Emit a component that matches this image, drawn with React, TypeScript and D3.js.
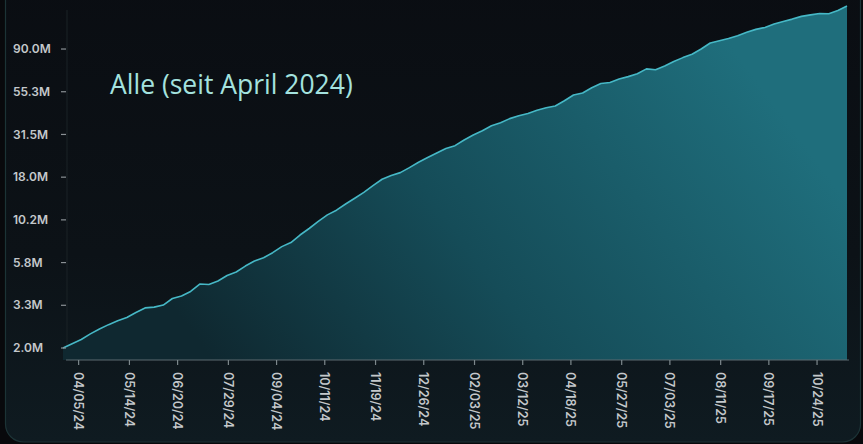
import React from "react";
import * as d3 from "d3";

const W = 863;
const H = 444;

// weekly samples (millions), starting 2024-03-24
const START = "2024-03-24";
const STEP_DAYS = 7;
const values = [
  2.0, 2.1, 2.21, 2.36, 2.5, 2.63, 2.75, 2.86, 3.03, 3.2,
  3.23, 3.31, 3.61, 3.73, 3.96, 4.37, 4.34, 4.55, 4.89, 5.12,
  5.54, 5.92, 6.18, 6.61, 7.16, 7.56, 8.35, 9.1, 10.0, 10.9,
  11.6, 12.6, 13.6, 14.7, 16.1, 17.5, 18.4, 19.1, 20.4, 21.9,
  23.3, 24.7, 26.2, 27.2, 29.3, 31.3, 33.1, 35.3, 36.8, 38.8,
  40.3, 41.5, 43.3, 44.8, 45.8, 49.1, 53.0, 54.4, 57.9, 60.8,
  61.4, 63.9, 65.7, 67.9, 71.8, 71.1, 74.2, 78.1, 81.6, 84.8,
  90.0, 96.4, 98.9, 101.5, 104.8, 108.9, 112.6, 115.1, 119.6, 123.3,
  126.6, 130.6, 132.9, 135.0, 134.6, 139.6, 146.9,
];

const yTicks = [2.0, 3.3, 5.8, 10.2, 18.0, 31.5, 55.3, 90.0];

const xTickLabels = [
  "04/05/24", "05/14/24", "06/20/24", "07/29/24", "09/04/24", "10/11/24",
  "11/19/24", "12/26/24", "02/03/25", "03/12/25", "04/18/25", "05/27/25",
  "07/03/25", "08/11/25", "09/17/25", "10/24/25",
];

const TITLE = "Alle (seit April 2024)";

const LEFT = 63;
const RIGHT = 847;
const BASE = 360;
const Y_BOTTOM = 348;
const Y_STEP = 42.71;

export default function App() {
  const start = d3.timeParse("%Y-%m-%d")(START) as Date;
  const dates = values.map((_, i) => d3.timeDay.offset(start, i * STEP_DAYS));
  const data = values.map((v, i) => ({ date: dates[i], value: v }));

  const x = d3
    .scaleTime()
    .domain([dates[0], dates[dates.length - 1]])
    .range([LEFT, RIGHT]);

  // piecewise log scale so the odd tick values sit evenly spaced
  const y = d3
    .scaleLog()
    .domain(yTicks)
    .range(yTicks.map((_, i) => Y_BOTTOM - i * Y_STEP));

  const parseTick = d3.timeParse("%m/%d/%y");
  const xTicks = xTickLabels.map((s) => ({ label: s, date: parseTick(s) as Date }));

  const area = d3
    .area<{ date: Date; value: number }>()
    .x((d) => x(d.date))
    .y0(BASE)
    .y1((d) => y(d.value));

  const line = d3
    .line<{ date: Date; value: number }>()
    .x((d) => x(d.date))
    .y((d) => y(d.value));

  const axisFont = "Inter, 'DejaVu Sans', sans-serif";

  return (
    <div style={{ position: "absolute", left: 0, top: 0 }}>
      <svg width={W} height={H} style={{ display: "block" }}>
        <defs>
          <linearGradient id="cardBg" x1="0" y1="0" x2="0" y2="1">
            <stop offset="0" stopColor="#0a0d12" />
            <stop offset="0.6" stopColor="#0c1217" />
            <stop offset="1" stopColor="#0f1b21" />
          </linearGradient>
          <linearGradient
            id="areaFill"
            gradientUnits="userSpaceOnUse"
            x1={LEFT + 150}
            y1={BASE}
            x2={RIGHT - 150}
            y2={0}
          >
            <stop offset="0" stopColor="#0f2830" />
            <stop offset="0.45" stopColor="#154c58" />
            <stop offset="1" stopColor="#1f6e7c" />
          </linearGradient>
        </defs>

        <rect x={0} y={0} width={W} height={H} fill="#08090c" />
        <rect
          x={5.5}
          y={-30}
          width={855}
          height={472}
          rx={18}
          fill="url(#cardBg)"
          stroke="#1c3336"
          strokeWidth={1.2}
        />

        {/* faint y axis line */}
        <line x1={67} x2={67} y1={10} y2={BASE} stroke="#1b2227" strokeWidth={1} />

        <path d={area(data) || ""} fill="url(#areaFill)" />
        <path
          d={line(data) || ""}
          fill="none"
          stroke="#46b8c6"
          strokeWidth={1.6}
          strokeLinejoin="round"
        />

        {/* x axis */}
        <line x1={66} x2={849} y1={BASE} y2={BASE} stroke="#5d6b70" strokeWidth={1.2} />
        {xTicks.map((t) => {
          const px = x(t.date);
          return (
            <g key={t.label}>
              <line x1={px} x2={px} y1={BASE} y2={BASE + 5} stroke="#7d888c" strokeWidth={1.2} />
              <text
                transform={`translate(${px - 4.5},${BASE + 12}) rotate(90)`}
                fontFamily={axisFont}
                fontSize={12.5}
                fontWeight={600}
                fill="#c4c8cb"
              >
                {t.label}
              </text>
            </g>
          );
        })}

        {/* y ticks */}
        {yTicks.map((v) => {
          const py = y(v);
          return (
            <g key={v}>
              <line x1={61} x2={66} y1={py} y2={py} stroke="#8a9094" strokeWidth={1.2} />
              <text
                x={13}
                y={py}
                dy="0.35em"
                fontFamily={axisFont}
                fontSize={12}
                fontWeight={600}
                fill="#c4c8cb"
              >
                {v.toFixed(1) + "M"}
              </text>
            </g>
          );
        })}

        <text
          x={110}
          y={94}
          fontFamily="'Open Sans', 'Noto Sans', sans-serif"
          fontSize={26.5}
          fill="#a4e2df"
        >
          {TITLE}
        </text>
      </svg>
    </div>
  );
}
